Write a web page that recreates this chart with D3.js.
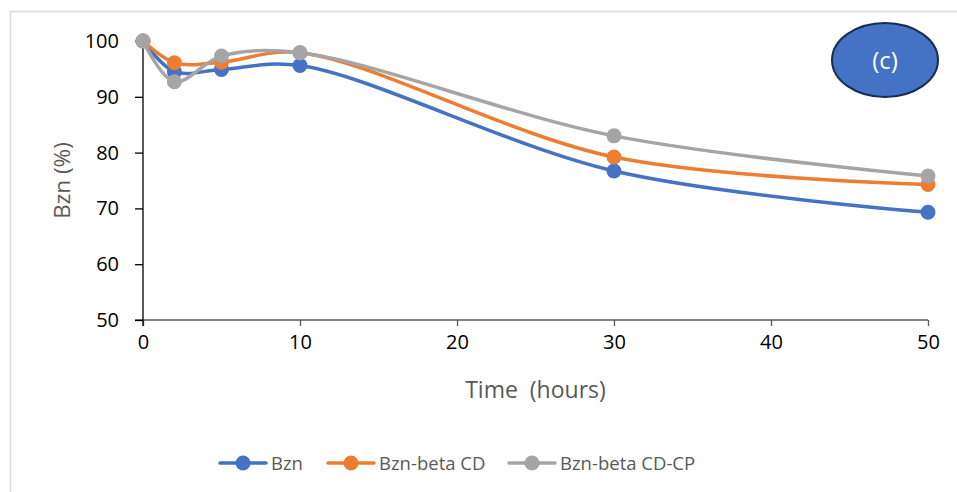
<!DOCTYPE html>
<html>
<head>
<meta charset="utf-8">
<script src="https://cdn.jsdelivr.net/npm/d3@7"></script>
<style>
  body { margin: 0; background: #fff; }
  text { font-family: "Open Sans", "Noto Sans", sans-serif; }
</style>
</head>
<body>
<div class="chart"></div>
<script>
// data
const hours = [0, 2, 5, 10, 30, 50];
const bzn = [100, 94.5, 94.9, 95.6, 76.7, 69.3];
const bznBetaCD = [100, 96.1, 96.2, 97.9, 79.2, 74.3];
const bznBetaCDCP = [100, 92.7, 97.3, 97.9, 83.0, 75.8];
const seriesNames = ['Bzn', 'Bzn-beta CD', 'Bzn-beta CD-CP'];
const seriesColors = ['#4472C4', '#ED7D31', '#A5A5A5'];
const xTicks = [0, 10, 20, 30, 40, 50];
const yTicks = [50, 60, 70, 80, 90, 100];

const width = 957, height = 492;
const plotLeft = 143, plotRight = 928, plotTop = 41, plotBottom = 320;

let svg = d3.select('.chart')
	.append('svg')
	.attr('width', width)
	.attr('height', height);

// outer frame (runs off the right and bottom)
svg.append('rect')
	.attr('x', 10.5)
	.attr('y', 11.5)
	.attr('width', 1000)
	.attr('height', 1000)
	.attr('fill', 'none')
	.attr('stroke', '#d9d9d9')
	.attr('stroke-width', 1.5);

const x = d3.scaleLinear().domain([0, 50]).range([plotLeft, plotRight]);
const y = d3.scaleLinear().domain([50, 100]).range([plotBottom, plotTop]);

// x axis
let xAxis = svg.append('g')
	.attr('transform', 'translate(0,' + plotBottom + ')')
	.call(d3.axisBottom(x).tickValues(xTicks).tickSize(6).tickSizeOuter(0).tickPadding(9));
xAxis.select('.domain').attr('stroke', '#595959').attr('stroke-width', 1.3).attr('d', 'M' + (plotLeft - 8) + ',0H' + plotRight);
xAxis.selectAll('.tick line').attr('stroke', '#595959').attr('stroke-width', 1.3);
xAxis.selectAll('.tick text').attr('font-size', 20).attr('fill', '#000')
	.style('font-family', '"Open Sans", sans-serif');

// y axis
let yAxis = svg.append('g')
	.attr('transform', 'translate(' + plotLeft + ',0)')
	.call(d3.axisLeft(y).tickValues(yTicks).tickSize(8).tickSizeOuter(0).tickPadding(16));
yAxis.select('.domain').attr('stroke', '#000').attr('stroke-width', 1.3).attr('d', 'M0,' + plotTop + 'V' + (plotBottom + 6));
yAxis.selectAll('.tick line').attr('stroke', '#000').attr('stroke-width', 1.3);
yAxis.selectAll('.tick text').attr('font-size', 20).attr('fill', '#000')
	.style('font-family', '"Open Sans", sans-serif');

// axis titles
svg.append('text')
	.attr('x', (plotLeft + plotRight) / 2)
	.attr('y', 398)
	.attr('text-anchor', 'middle')
	.attr('font-size', 23)
	.attr('fill', '#595959')
	.style('white-space', 'pre')
	.text('Time  (hours)');

svg.append('text')
	.attr('transform', 'translate(70,' + ((plotTop + plotBottom) / 2) + ') rotate(-90)')
	.attr('text-anchor', 'middle')
	.attr('font-size', 22.5)
	.attr('fill', '#595959')
	.text('Bzn (%)');

// series
const allSeries = [bzn, bznBetaCD, bznBetaCDCP];
const line = d3.line()
	.x((d, i) => x(hours[i]))
	.y(d => y(d))
	.curve(d3.curveCatmullRom.alpha(0.5));

allSeries.forEach((vals, k) => {
	svg.append('path')
		.datum(vals)
		.attr('d', line)
		.attr('fill', 'none')
		.attr('stroke', seriesColors[k])
		.attr('stroke-width', 3.5)
		.attr('stroke-linecap', 'round');
	svg.selectAll('.pt' + k)
		.data(vals)
		.enter()
		.append('circle')
		.attr('class', 'pt' + k)
		.attr('cx', (d, i) => x(hours[i]))
		.attr('cy', d => y(d))
		.attr('r', 7.5)
		.attr('fill', seriesColors[k]);
});

// legend
const legendX = [220, 328, 509];
seriesNames.forEach((name, k) => {
	let g = svg.append('g').attr('transform', 'translate(' + legendX[k] + ',463)');
	g.append('line')
		.attr('x1', 0).attr('x2', 46)
		.attr('stroke', seriesColors[k])
		.attr('stroke-width', 3.5)
		.attr('stroke-linecap', 'round');
	g.append('circle')
		.attr('cx', 23)
		.attr('r', 7.5)
		.attr('fill', seriesColors[k]);
	g.append('text')
		.attr('x', 51)
		.attr('y', 7)
		.attr('font-size', 18.5)
		.attr('fill', '#595959')
		.text(name);
});

// (c) label
svg.append('ellipse')
	.attr('cx', 885)
	.attr('cy', 60)
	.attr('rx', 53)
	.attr('ry', 37)
	.attr('fill', '#4472C4')
	.attr('stroke', '#172C51')
	.attr('stroke-width', 2);
svg.append('text')
	.attr('x', 885)
	.attr('y', 69)
	.attr('text-anchor', 'middle')
	.attr('font-size', 24)
	.attr('fill', '#fff')
	.text('(c)');
</script>
</body>
</html>
